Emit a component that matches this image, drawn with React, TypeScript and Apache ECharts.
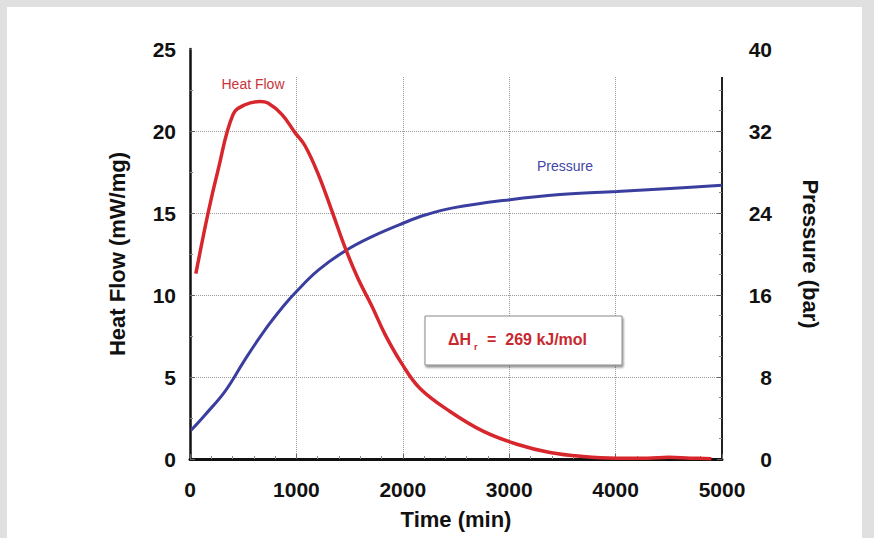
import React, { useEffect, useRef } from "react";
import * as echarts from "echarts";

const timeTicks = [0, 1000, 2000, 3000, 4000, 5000];
const heatTicks = [0, 5, 10, 15, 20, 25];
const pressureTicks = [0, 8, 16, 24, 32, 40];

const heatTime = [55, 170, 263, 404, 517, 658, 733, 865, 987, 1081, 1203, 1335, 1457, 1579, 1711, 1833, 1992, 2162, 2444, 2754, 3073, 3383, 3693, 4000, 4300, 4500, 4700, 4900];
const heatFlow = [11.3, 15.0, 17.6, 21.0, 21.6, 21.8, 21.7, 21.0, 19.9, 19.1, 17.4, 15.1, 12.9, 11.0, 9.3, 7.6, 5.8, 4.3, 2.9, 1.7, 0.9, 0.4, 0.15, 0.05, 0.05, 0.1, 0.05, 0.02];

const pressureTime = [10, 141, 329, 517, 705, 893, 996, 1203, 1457, 1711, 2002, 2209, 2472, 3008, 3477, 4013, 4511, 5000];
const pressure = [2.8, 4.3, 6.6, 9.7, 12.6, 15.1, 16.3, 18.4, 20.3, 21.7, 23.0, 23.8, 24.5, 25.3, 25.8, 26.1, 26.4, 26.7];

const FONT = "'Liberation Sans', Arial, Helvetica, sans-serif";

export default function App() {
  const ref = useRef<HTMLDivElement>(null);

  useEffect(() => {
    if (!ref.current) return;
    const chart = echarts.init(ref.current, undefined, { renderer: "svg" });
    const tickLabel = { fontSize: 21, fontWeight: "bold", color: "#111", fontFamily: FONT };
    const nameStyle = { fontSize: 22, fontWeight: "bold", color: "#111", fontFamily: FONT };
    const option = {
      animation: false,
      grid: { left: 190, right: 152, top: 49, bottom: 79, containLabel: false },
      xAxis: {
        type: "value",
        min: timeTicks[0],
        max: timeTicks[timeTicks.length - 1],
        interval: 1000,
        name: "Time (min)",
        nameLocation: "middle",
        nameGap: 49,
        nameTextStyle: nameStyle,
        axisLine: { show: true, onZero: false, lineStyle: { color: "#111", width: 3 } },
        axisTick: { show: true, inside: true, length: 5, lineStyle: { color: "#666" } },
        minorTick: { show: true, splitNumber: 5, length: 3, lineStyle: { color: "#888" } },
        axisLabel: { ...tickLabel, margin: 20, formatter: (v: number) => String(v) },
        splitLine: { show: true, lineStyle: { type: "dotted", color: "#9a9a9a", width: 1 } },
      },
      yAxis: [
        {
          type: "value",
          position: "left",
          min: heatTicks[0],
          max: heatTicks[heatTicks.length - 1],
          interval: 5,
          name: "Heat Flow (mW/mg)",
          nameLocation: "middle",
          nameRotate: 90,
          nameGap: 62,
          nameTextStyle: nameStyle,
          axisLine: { show: true, lineStyle: { color: "#111", width: 2.5 } },
          axisTick: { show: true, inside: true, length: 5, lineStyle: { color: "#666" } },
          minorTick: { show: true, splitNumber: 2, length: 3, lineStyle: { color: "#888" } },
          axisLabel: { ...tickLabel, margin: 14 },
          splitLine: { show: true, lineStyle: { type: "dotted", color: "#9a9a9a", width: 1 } },
        },
        {
          type: "value",
          position: "right",
          min: pressureTicks[0],
          max: pressureTicks[pressureTicks.length - 1],
          interval: 8,
          name: "Pressure (bar)",
          nameLocation: "middle",
          nameRotate: -90,
          nameGap: 77,
          nameTextStyle: nameStyle,
          axisLine: { show: true, lineStyle: { color: "#222", width: 2 } },
          axisTick: { show: true, inside: true, length: 5, lineStyle: { color: "#666" } },
          minorTick: { show: true, splitNumber: 4, length: 3, lineStyle: { color: "#888" } },
          axisLabel: { ...tickLabel, margin: 50, align: "right" },
          splitLine: { show: false },
        },
      ],
      series: [
        {
          name: "Pressure",
          type: "line",
          yAxisIndex: 1,
          data: pressureTime.map((t, i) => [t, pressure[i]]),
          showSymbol: false,
          smooth: 0.4,
          lineStyle: { color: "#3a3f9f", width: 3 },
          z: 3,
        },
        {
          name: "Heat Flow",
          type: "line",
          yAxisIndex: 0,
          data: heatTime.map((t, i) => [t, heatFlow[i]]),
          showSymbol: false,
          smooth: 0.4,
          lineStyle: { color: "#d7262c", width: 3.5 },
          z: 4,
        },
      ],
      graphic: [
        {
          type: "rect",
          z: 100,
          shape: { x: 192, y: 38, width: 540, height: 39 },
          style: { fill: "#ffffff" },
        },
        {
          type: "text",
          z: 101,
          x: 253,
          y: 84,
          style: { text: "Heat Flow", fontSize: 14, fontFamily: FONT, fill: "#c9353a", align: "center", verticalAlign: "middle" },
        },
        {
          type: "text",
          z: 101,
          x: 565,
          y: 166,
          style: { text: "Pressure", fontSize: 14, fontFamily: FONT, fill: "#4246a6", align: "center", verticalAlign: "middle" },
        },
        {
          type: "rect",
          z: 101,
          shape: { x: 425, y: 316, width: 197, height: 49 },
          style: {
            fill: "#ffffff",
            stroke: "#8a8a8a",
            lineWidth: 1,
            shadowBlur: 2,
            shadowOffsetX: 1,
            shadowOffsetY: 2,
            shadowColor: "rgba(0,0,0,0.45)",
          },
        },
        {
          type: "text",
          z: 102,
          x: 448,
          y: 339,
          style: { text: "ΔH", fontSize: 16, fontWeight: "bold", fontFamily: FONT, fill: "#c8282e", align: "left", verticalAlign: "middle" },
        },
        {
          type: "text",
          z: 102,
          x: 474,
          y: 347,
          style: { text: "r", fontSize: 9, fontWeight: "bold", fontFamily: FONT, fill: "#c8282e", align: "left", verticalAlign: "middle" },
        },
        {
          type: "text",
          z: 102,
          x: 487,
          y: 339,
          style: { text: "=  269 kJ/mol", fontSize: 16, fontWeight: "bold", fontFamily: FONT, fill: "#c8282e", align: "left", verticalAlign: "middle" },
        },
      ],
    };
    chart.setOption(option as any);
    return () => chart.dispose();
  }, []);

  return (
    <div style={{ position: "fixed", left: 0, top: 0, width: 874, height: 538, background: "#e0e0e0", overflow: "hidden" }}>
      <div style={{ position: "absolute", left: 7, top: 7, width: 855, height: 531, background: "#ffffff" }} />
      <div ref={ref} style={{ position: "absolute", left: 0, top: 0, width: 874, height: 538 }} />
    </div>
  );
}
